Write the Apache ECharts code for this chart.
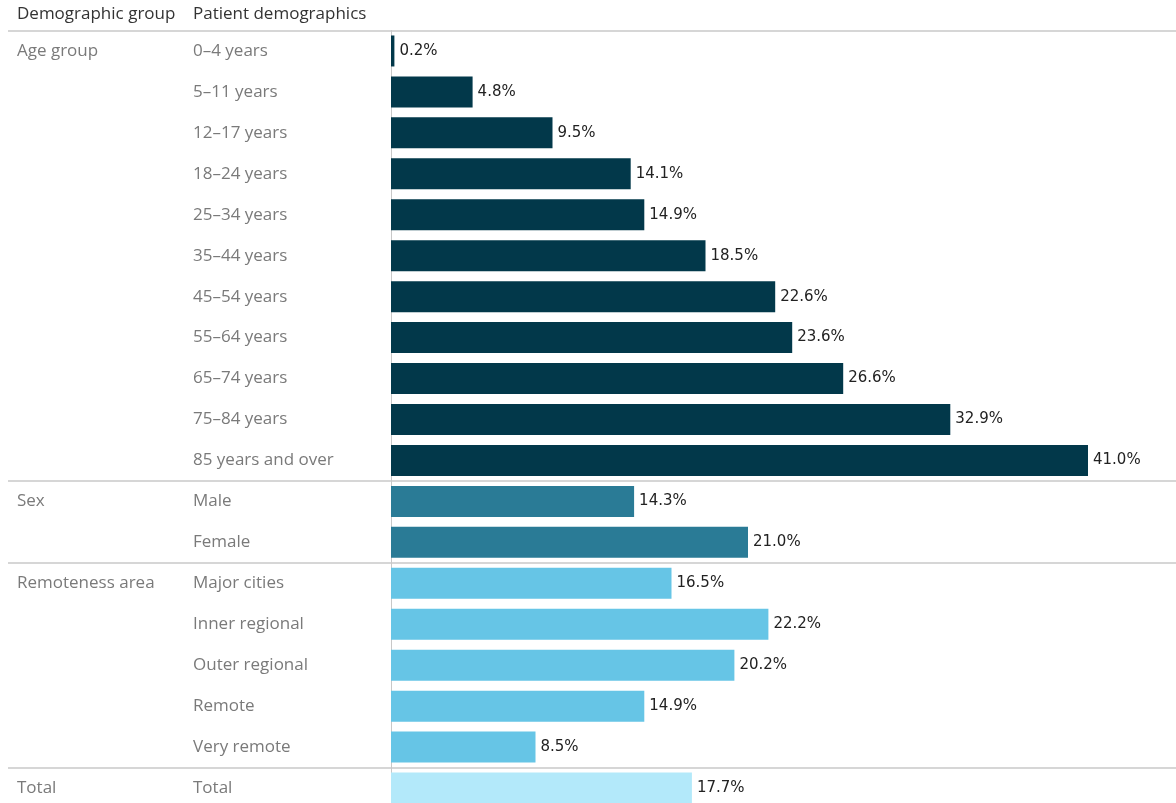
<!DOCTYPE html>
<html>
<head>
<meta charset="utf-8">
<script src="https://cdn.jsdelivr.net/npm/echarts@6/dist/echarts.min.js"></script>
<style>
  html, body { margin: 0; padding: 0; background: #fff; }
  #chart { width: 1176px; height: 803px; }
</style>
</head>
<body>
<div id="chart"></div>
<script>
// Share of patients by demographic (per cent)
const groups = ['Age group', 'Age group', 'Age group', 'Age group', 'Age group', 'Age group',
  'Age group', 'Age group', 'Age group', 'Age group', 'Age group',
  'Sex', 'Sex',
  'Remoteness area', 'Remoteness area', 'Remoteness area', 'Remoteness area', 'Remoteness area',
  'Total'];
const categories = ['0–4 years', '5–11 years', '12–17 years', '18–24 years', '25–34 years',
  '35–44 years', '45–54 years', '55–64 years', '65–74 years', '75–84 years', '85 years and over',
  'Male', 'Female',
  'Major cities', 'Inner regional', 'Outer regional', 'Remote', 'Very remote',
  'Total'];
const values = [0.2, 4.8, 9.5, 14.1, 14.9, 18.5, 22.6, 23.6, 26.6, 32.9, 41.0,
  14.3, 21.0,
  16.5, 22.2, 20.2, 14.9, 8.5,
  17.7];
const headers = ['Demographic group', 'Patient demographics'];

const groupColors = {
  'Age group': '#02384a',
  'Sex': '#2a7b96',
  'Remoteness area': '#66c5e6',
  'Total': '#b3e9fa'
};

const LABEL_FONT = '"Open Sans", sans-serif';
const LABEL_SIZE = 17;
const chart = echarts.init(document.getElementById('chart'));

const rowKeys = categories.map((c, i) => i + '|' + c);

chart.setOption({
  animation: false,
  grid: {
    left: 391, top: 30.5, width: 782, height: 778,
    containLabel: false, outerBoundsMode: 'none'
  },
  xAxis: {
    type: 'value', min: 0, max: 46,
    show: false
  },
  yAxis: {
    type: 'category',
    inverse: true,
    data: rowKeys,
    axisLine: { show: true, lineStyle: { color: '#c8c8c8', width: 1 } },
    axisTick: { show: false },
    axisLabel: {
      align: 'left',
      margin: 374,
      formatter: function (key) {
        const i = +key.split('|')[0];
        const first = i === 0 || groups[i] !== groups[i - 1];
        return '{g|' + (first ? groups[i] : '') + '}{p|' + categories[i] + '}';
      },
      rich: {
        g: { width: 176, color: '#7a7a7a', fontSize: LABEL_SIZE, fontFamily: LABEL_FONT },
        p: { color: '#7a7a7a', fontSize: LABEL_SIZE, fontFamily: LABEL_FONT }
      }
    }
  },
  series: [{
    type: 'bar',
    barWidth: 31,
    data: values.map((v, i) => ({
      value: v,
      itemStyle: { color: groupColors[groups[i]] }
    })),
    label: {
      show: true,
      position: 'right',
      distance: 5,
      color: '#222',
      fontSize: 15,
      fontFamily: '"DejaVu Sans", sans-serif',
      formatter: p => p.value.toFixed(1) + '%'
    }
  }]
});

// Header texts and horizontal rules between demographic groups
function drawFrame() {
  const elements = [];
  elements.push({
    type: 'text', left: 17, top: 6,
    style: { text: headers[0], fill: '#333', font: LABEL_SIZE + 'px ' + LABEL_FONT }
  });
  elements.push({
    type: 'text', left: 193, top: 6,
    style: { text: headers[1], fill: '#333', font: LABEL_SIZE + 'px ' + LABEL_FONT }
  });
  const lineStyle = { stroke: '#d6d6d6', lineWidth: 2 };
  const topY = chart.convertToPixel({ yAxisIndex: 0 }, rowKeys[0]);
  const step = chart.convertToPixel({ yAxisIndex: 0 }, rowKeys[1]) - topY;
  const boundaries = [0];
  for (let i = 1; i < groups.length; i++) {
    if (groups[i] !== groups[i - 1]) boundaries.push(i);
  }
  boundaries.forEach(i => {
    const y = Math.round(chart.convertToPixel({ yAxisIndex: 0 }, rowKeys[i]) - step / 2);
    elements.push({
      type: 'line', silent: true,
      shape: { x1: 8, y1: y, x2: 1176, y2: y },
      style: lineStyle
    });
  });
  chart.setOption({ graphic: { elements: elements } });
}
drawFrame();
</script>
</body>
</html>
